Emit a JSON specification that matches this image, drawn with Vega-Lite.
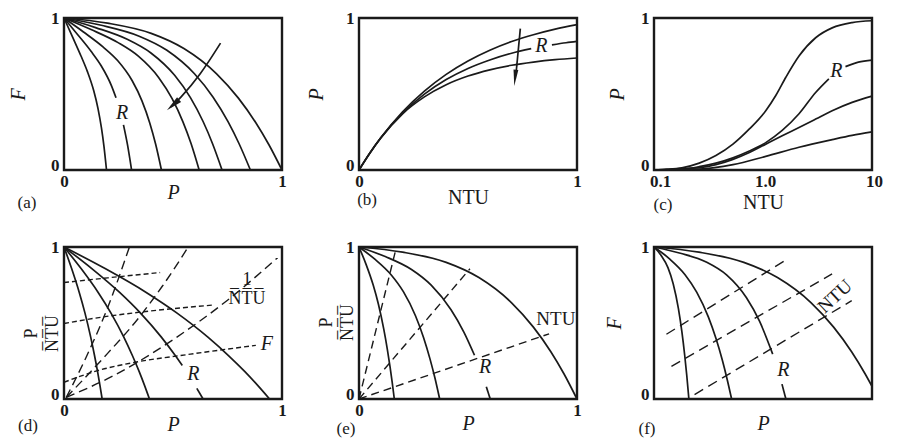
{
  "$schema": "https://vega.github.io/schema/vega-lite/v6.json",
  "background": "white",
  "padding": {"left": 6, "top": 7, "right": 5, "bottom": 5},
  "bounds": "flush",
  "columns": 3,
  "spacing": {"row": 77, "column": 77},
  "datasets": {
    "a_solid": [
      {"k": "c1", "x": 0, "y": 1}, {"k": "c1", "x": 0.039, "y": 0.876}, {"k": "c1", "x": 0.078, "y": 0.75}, {"k": "c1", "x": 0.107, "y": 0.649}, {"k": "c1", "x": 0.1365, "y": 0.521}, {"k": "c1", "x": 0.156, "y": 0.404}, {"k": "c1", "x": 0.1716, "y": 0.278}, {"k": "c1", "x": 0.1833, "y": 0.155}, {"k": "c1", "x": 0.195, "y": 0},
      {"k": "c2a", "x": 0, "y": 1}, {"k": "c2a", "x": 0.062, "y": 0.892}, {"k": "c2a", "x": 0.124, "y": 0.781}, {"k": "c2a", "x": 0.1705, "y": 0.686}, {"k": "c2a", "x": 0.217, "y": 0.557}, {"k": "c2a", "x": 0.2387, "y": 0.475},
      {"k": "c2b", "x": 0.2728, "y": 0.297}, {"k": "c2b", "x": 0.2914, "y": 0.165}, {"k": "c2b", "x": 0.31, "y": 0},
      {"k": "c3", "x": 0, "y": 1}, {"k": "c3", "x": 0.0894, "y": 0.908}, {"k": "c3", "x": 0.1788, "y": 0.81}, {"k": "c3", "x": 0.2459, "y": 0.72}, {"k": "c3", "x": 0.3129, "y": 0.587}, {"k": "c3", "x": 0.3576, "y": 0.455}, {"k": "c3", "x": 0.3934, "y": 0.31}, {"k": "c3", "x": 0.4202, "y": 0.171}, {"k": "c3", "x": 0.447, "y": 0},
      {"k": "c4", "x": 0, "y": 1}, {"k": "c4", "x": 0.124, "y": 0.924}, {"k": "c4", "x": 0.248, "y": 0.838}, {"k": "c4", "x": 0.341, "y": 0.749}, {"k": "c4", "x": 0.434, "y": 0.609}, {"k": "c4", "x": 0.496, "y": 0.469}, {"k": "c4", "x": 0.5456, "y": 0.317}, {"k": "c4", "x": 0.5828, "y": 0.174}, {"k": "c4", "x": 0.62, "y": 0},
      {"k": "c5", "x": 0, "y": 1}, {"k": "c5", "x": 0.145, "y": 0.937}, {"k": "c5", "x": 0.29, "y": 0.86}, {"k": "c5", "x": 0.3988, "y": 0.77}, {"k": "c5", "x": 0.5075, "y": 0.623}, {"k": "c5", "x": 0.58, "y": 0.476}, {"k": "c5", "x": 0.638, "y": 0.319}, {"k": "c5", "x": 0.6815, "y": 0.173}, {"k": "c5", "x": 0.725, "y": 0},
      {"k": "c6", "x": 0, "y": 1}, {"k": "c6", "x": 0.171, "y": 0.952}, {"k": "c6", "x": 0.342, "y": 0.882}, {"k": "c6", "x": 0.4703, "y": 0.789}, {"k": "c6", "x": 0.5985, "y": 0.633}, {"k": "c6", "x": 0.684, "y": 0.479}, {"k": "c6", "x": 0.7524, "y": 0.318}, {"k": "c6", "x": 0.8037, "y": 0.171}, {"k": "c6", "x": 0.855, "y": 0},
      {"k": "c7", "x": 0, "y": 1}, {"k": "c7", "x": 0.2, "y": 0.966}, {"k": "c7", "x": 0.4, "y": 0.899}, {"k": "c7", "x": 0.55, "y": 0.799}, {"k": "c7", "x": 0.7, "y": 0.633}, {"k": "c7", "x": 0.8, "y": 0.473}, {"k": "c7", "x": 0.88, "y": 0.311}, {"k": "c7", "x": 0.94, "y": 0.166}, {"k": "c7", "x": 1, "y": 0}
    ],
    "a_arrow": [
      {"x": 0.718, "y": 0.835}, {"x": 0.626, "y": 0.626}, {"x": 0.527, "y": 0.462}, {"x": 0.49, "y": 0.415}
    ],
    "a_head": [{"x": 0.5, "y": 0.428}],
    "b_solid": [
      {"k": "t", "x": 0, "y": 0}, {"k": "t", "x": 0.05, "y": 0.112}, {"k": "t", "x": 0.1, "y": 0.212}, {"k": "t", "x": 0.2, "y": 0.383}, {"k": "t", "x": 0.3, "y": 0.519}, {"k": "t", "x": 0.4, "y": 0.629}, {"k": "t", "x": 0.5, "y": 0.717}, {"k": "t", "x": 0.6, "y": 0.788}, {"k": "t", "x": 0.7, "y": 0.845}, {"k": "t", "x": 0.8, "y": 0.89}, {"k": "t", "x": 0.9, "y": 0.927}, {"k": "t", "x": 1, "y": 0.956},
      {"k": "ma", "x": 0, "y": 0}, {"k": "ma", "x": 0.05, "y": 0.112}, {"k": "ma", "x": 0.1, "y": 0.212}, {"k": "ma", "x": 0.2, "y": 0.374}, {"k": "ma", "x": 0.3, "y": 0.499}, {"k": "ma", "x": 0.4, "y": 0.595}, {"k": "ma", "x": 0.5, "y": 0.668}, {"k": "ma", "x": 0.6, "y": 0.724}, {"k": "ma", "x": 0.7, "y": 0.768}, {"k": "ma", "x": 0.79, "y": 0.798},
      {"k": "mb", "x": 0.885, "y": 0.823}, {"k": "mb", "x": 0.95, "y": 0.837}, {"k": "mb", "x": 1, "y": 0.846},
      {"k": "bo", "x": 0, "y": 0}, {"k": "bo", "x": 0.05, "y": 0.111}, {"k": "bo", "x": 0.1, "y": 0.21}, {"k": "bo", "x": 0.2, "y": 0.37}, {"k": "bo", "x": 0.3, "y": 0.481}, {"k": "bo", "x": 0.4, "y": 0.561}, {"k": "bo", "x": 0.5, "y": 0.618}, {"k": "bo", "x": 0.6, "y": 0.659}, {"k": "bo", "x": 0.7, "y": 0.689}, {"k": "bo", "x": 0.8, "y": 0.71}, {"k": "bo", "x": 0.9, "y": 0.726}, {"k": "bo", "x": 1, "y": 0.737}
    ],
    "b_arrow": [{"x": 0.74, "y": 0.93}, {"x": 0.72, "y": 0.63}],
    "b_head": [{"x": 0.716, "y": 0.606}],
    "c_solid": [
      {"k": "c1", "x": 0.1, "y": 0}, {"k": "c1", "x": 0.13, "y": 0.004}, {"k": "c1", "x": 0.18, "y": 0.014}, {"k": "c1", "x": 0.26, "y": 0.045}, {"k": "c1", "x": 0.37, "y": 0.095}, {"k": "c1", "x": 0.53, "y": 0.17}, {"k": "c1", "x": 0.75, "y": 0.27}, {"k": "c1", "x": 1.06, "y": 0.39}, {"k": "c1", "x": 1.31, "y": 0.49}, {"k": "c1", "x": 1.62, "y": 0.61}, {"k": "c1", "x": 2.14, "y": 0.75}, {"k": "c1", "x": 3.04, "y": 0.87}, {"k": "c1", "x": 4.31, "y": 0.935}, {"k": "c1", "x": 6.57, "y": 0.97}, {"k": "c1", "x": 10, "y": 0.982},
      {"k": "c2a", "x": 0.1, "y": 0}, {"k": "c2a", "x": 0.18, "y": 0.006}, {"k": "c2a", "x": 0.26, "y": 0.022}, {"k": "c2a", "x": 0.37, "y": 0.045}, {"k": "c2a", "x": 0.53, "y": 0.08}, {"k": "c2a", "x": 0.75, "y": 0.125}, {"k": "c2a", "x": 1.06, "y": 0.18}, {"k": "c2a", "x": 1.5, "y": 0.26}, {"k": "c2a", "x": 2.14, "y": 0.37}, {"k": "c2a", "x": 3.04, "y": 0.51}, {"k": "c2a", "x": 4.02, "y": 0.6},
      {"k": "c2b", "x": 5.71, "y": 0.68}, {"k": "c2b", "x": 7.5, "y": 0.71}, {"k": "c2b", "x": 10, "y": 0.723},
      {"k": "c3", "x": 0.1, "y": 0}, {"k": "c3", "x": 0.26, "y": 0.015}, {"k": "c3", "x": 0.37, "y": 0.035}, {"k": "c3", "x": 0.53, "y": 0.07}, {"k": "c3", "x": 0.75, "y": 0.115}, {"k": "c3", "x": 1.06, "y": 0.17}, {"k": "c3", "x": 1.5, "y": 0.225}, {"k": "c3", "x": 2.14, "y": 0.28}, {"k": "c3", "x": 3.04, "y": 0.335}, {"k": "c3", "x": 4.31, "y": 0.39}, {"k": "c3", "x": 6.57, "y": 0.445}, {"k": "c3", "x": 10, "y": 0.486},
      {"k": "c4", "x": 0.1, "y": 0}, {"k": "c4", "x": 0.26, "y": 0.006}, {"k": "c4", "x": 0.53, "y": 0.035}, {"k": "c4", "x": 1.06, "y": 0.09}, {"k": "c4", "x": 2.14, "y": 0.15}, {"k": "c4", "x": 4.31, "y": 0.2}, {"k": "c4", "x": 6.57, "y": 0.228}, {"k": "c4", "x": 10, "y": 0.251}
    ],
    "d_solid": [
      {"k": "c1", "x": 0, "y": 1}, {"k": "c1", "x": 0.035, "y": 0.858}, {"k": "c1", "x": 0.07, "y": 0.701}, {"k": "c1", "x": 0.0963, "y": 0.565}, {"k": "c1", "x": 0.1225, "y": 0.407}, {"k": "c1", "x": 0.14, "y": 0.286}, {"k": "c1", "x": 0.154, "y": 0.18}, {"k": "c1", "x": 0.1645, "y": 0.093}, {"k": "c1", "x": 0.175, "y": 0},
      {"k": "c2", "x": 0, "y": 1}, {"k": "c2", "x": 0.0784, "y": 0.858}, {"k": "c2", "x": 0.1568, "y": 0.701}, {"k": "c2", "x": 0.2156, "y": 0.565}, {"k": "c2", "x": 0.2744, "y": 0.407}, {"k": "c2", "x": 0.3136, "y": 0.286}, {"k": "c2", "x": 0.345, "y": 0.18}, {"k": "c2", "x": 0.3685, "y": 0.093}, {"k": "c2", "x": 0.392, "y": 0},
      {"k": "c3a", "x": 0, "y": 1}, {"k": "c3a", "x": 0.1276, "y": 0.858}, {"k": "c3a", "x": 0.2552, "y": 0.701}, {"k": "c3a", "x": 0.3509, "y": 0.565}, {"k": "c3a", "x": 0.4466, "y": 0.407}, {"k": "c3a", "x": 0.5104, "y": 0.286}, {"k": "c3a", "x": 0.5423, "y": 0.221},
      {"k": "c3b", "x": 0.6093, "y": 0.07}, {"k": "c3b", "x": 0.638, "y": 0},
      {"k": "c4", "x": 0, "y": 1}, {"k": "c4", "x": 0.1886, "y": 0.858}, {"k": "c4", "x": 0.3772, "y": 0.701}, {"k": "c4", "x": 0.5187, "y": 0.565}, {"k": "c4", "x": 0.6601, "y": 0.407}, {"k": "c4", "x": 0.7544, "y": 0.286}, {"k": "c4", "x": 0.8298, "y": 0.18}, {"k": "c4", "x": 0.8864, "y": 0.093}, {"k": "c4", "x": 0.943, "y": 0}
    ],
    "d_f_lines": [
      {"k": "f1", "x": 0, "y": 0.766}, {"k": "f1", "x": 0.2, "y": 0.797}, {"k": "f1", "x": 0.441, "y": 0.832},
      {"k": "f2", "x": 0, "y": 0.497}, {"k": "f2", "x": 0.18, "y": 0.54}, {"k": "f2", "x": 0.365, "y": 0.574}, {"k": "f2", "x": 0.684, "y": 0.618},
      {"k": "f3", "x": 0, "y": 0.11}, {"k": "f3", "x": 0.15, "y": 0.185}, {"k": "f3", "x": 0.32, "y": 0.24}, {"k": "f3", "x": 0.58, "y": 0.295}, {"k": "f3", "x": 0.88, "y": 0.353}
    ],
    "d_ntu_lines": [
      {"k": "n1", "x": 0.01, "y": 0.01}, {"k": "n1", "x": 0.1, "y": 0.27}, {"k": "n1", "x": 0.2, "y": 0.6}, {"k": "n1", "x": 0.3, "y": 1.0},
      {"k": "n2", "x": 0.01, "y": 0.01}, {"k": "n2", "x": 0.2, "y": 0.3}, {"k": "n2", "x": 0.335, "y": 0.52}, {"k": "n2", "x": 0.45, "y": 0.74}, {"k": "n2", "x": 0.57, "y": 1.0},
      {"k": "n3", "x": 0.01, "y": 0.01}, {"k": "n3", "x": 0.228, "y": 0.154}, {"k": "n3", "x": 0.5, "y": 0.39}, {"k": "n3", "x": 0.75, "y": 0.65}, {"k": "n3", "x": 0.98, "y": 0.93}
    ],
    "e_solid": [
      {"k": "c1", "x": 0, "y": 1}, {"k": "c1", "x": 0.0324, "y": 0.886}, {"k": "c1", "x": 0.0648, "y": 0.751}, {"k": "c1", "x": 0.0891, "y": 0.623}, {"k": "c1", "x": 0.1134, "y": 0.461}, {"k": "c1", "x": 0.1296, "y": 0.33}, {"k": "c1", "x": 0.1426, "y": 0.209}, {"k": "c1", "x": 0.1523, "y": 0.109}, {"k": "c1", "x": 0.162, "y": 0},
      {"k": "c2", "x": 0, "y": 1}, {"k": "c2", "x": 0.074, "y": 0.918}, {"k": "c2", "x": 0.148, "y": 0.816}, {"k": "c2", "x": 0.2035, "y": 0.706}, {"k": "c2", "x": 0.259, "y": 0.548}, {"k": "c2", "x": 0.296, "y": 0.405}, {"k": "c2", "x": 0.3256, "y": 0.264}, {"k": "c2", "x": 0.3478, "y": 0.141}, {"k": "c2", "x": 0.37, "y": 0},
      {"k": "c3a", "x": 0, "y": 1}, {"k": "c3a", "x": 0.1204, "y": 0.937}, {"k": "c3a", "x": 0.2408, "y": 0.852}, {"k": "c3a", "x": 0.3311, "y": 0.749}, {"k": "c3a", "x": 0.4214, "y": 0.589}, {"k": "c3a", "x": 0.4816, "y": 0.439}, {"k": "c3a", "x": 0.5298, "y": 0.288},
      {"k": "c3b", "x": 0.584, "y": 0.08}, {"k": "c3b", "x": 0.602, "y": 0},
      {"k": "c4", "x": 0, "y": 1}, {"k": "c4", "x": 0.2, "y": 0.966}, {"k": "c4", "x": 0.4, "y": 0.899}, {"k": "c4", "x": 0.55, "y": 0.799}, {"k": "c4", "x": 0.7, "y": 0.633}, {"k": "c4", "x": 0.8, "y": 0.473}, {"k": "c4", "x": 0.88, "y": 0.311}, {"k": "c4", "x": 0.94, "y": 0.166}, {"k": "c4", "x": 1, "y": 0}
    ],
    "e_ntu_lines": [
      {"k": "d1", "x": 0, "y": 0}, {"k": "d1", "x": 0.17, "y": 0.99},
      {"k": "d2", "x": 0, "y": 0}, {"k": "d2", "x": 0.509, "y": 0.857},
      {"k": "d3", "x": 0, "y": 0}, {"k": "d3", "x": 0.872, "y": 0.429}
    ],
    "f_solid": [
      {"k": "c1", "x": 0, "y": 1}, {"k": "c1", "x": 0.032, "y": 0.946}, {"k": "c1", "x": 0.064, "y": 0.864}, {"k": "c1", "x": 0.088, "y": 0.758}, {"k": "c1", "x": 0.112, "y": 0.594}, {"k": "c1", "x": 0.128, "y": 0.441}, {"k": "c1", "x": 0.1408, "y": 0.288}, {"k": "c1", "x": 0.1504, "y": 0.154}, {"k": "c1", "x": 0.16, "y": 0},
      {"k": "c2", "x": 0, "y": 1}, {"k": "c2", "x": 0.0712, "y": 0.922}, {"k": "c2", "x": 0.1424, "y": 0.818}, {"k": "c2", "x": 0.1958, "y": 0.703}, {"k": "c2", "x": 0.2492, "y": 0.54}, {"k": "c2", "x": 0.2848, "y": 0.396}, {"k": "c2", "x": 0.3133, "y": 0.256}, {"k": "c2", "x": 0.3346, "y": 0.135}, {"k": "c2", "x": 0.356, "y": 0},
      {"k": "c3a", "x": 0, "y": 1}, {"k": "c3a", "x": 0.121, "y": 0.959}, {"k": "c3a", "x": 0.242, "y": 0.9}, {"k": "c3a", "x": 0.3328, "y": 0.817}, {"k": "c3a", "x": 0.4235, "y": 0.668}, {"k": "c3a", "x": 0.484, "y": 0.512}, {"k": "c3a", "x": 0.5445, "y": 0.295},
      {"k": "c3b", "x": 0.587, "y": 0.098}, {"k": "c3b", "x": 0.605, "y": 0},
      {"k": "c4", "x": 0, "y": 1}, {"k": "c4", "x": 0.206, "y": 0.966}, {"k": "c4", "x": 0.412, "y": 0.899}, {"k": "c4", "x": 0.5665, "y": 0.799}, {"k": "c4", "x": 0.721, "y": 0.633}, {"k": "c4", "x": 0.824, "y": 0.473}, {"k": "c4", "x": 0.9064, "y": 0.311}, {"k": "c4", "x": 0.9682, "y": 0.166}, {"k": "c4", "x": 1, "y": 0.083}
    ],
    "f_ntu_lines": [
      {"k": "l1", "x": 0.057, "y": 0.426}, {"k": "l1", "x": 0.609, "y": 0.918},
      {"k": "l2", "x": 0.08, "y": 0.215}, {"k": "l2", "x": 0.817, "y": 0.823},
      {"k": "l3", "x": 0.186, "y": 0.029}, {"k": "l3", "x": 0.907, "y": 0.647}
    ]
  },
  "concat": [
    {
      "width": 218,
      "height": 152,
      "encoding": {
        "x": {"field": "x", "type": "quantitative", "scale": {"domain": [0, 1], "nice": false, "zero": false},
              "axis": {"values": [0, 1], "format": "d", "title": "P", "titleFontStyle": "italic", "titleY": 22}},
        "y": {"field": "y", "type": "quantitative", "scale": {"domain": [0, 1], "nice": false, "zero": false},
              "axis": {"values": [0, 1], "format": "d", "title": "F", "titleFontStyle": "italic", "titleX": -46}}
      },
      "layer": [
        {"data": {"name": "a_solid"}, "mark": {"type": "line"}, "encoding": {"detail": {"field": "k", "type": "nominal"}}},
        {"data": {"name": "a_arrow"}, "mark": {"type": "line", "interpolate": "basis"}},
        {"data": {"name": "a_head"}, "mark": {"type": "point", "shape": "M0,-1L0.38,1L-0.38,1Z", "filled": true, "opacity": 1, "size": 260, "angle": 229}},
        {"data": {"values": [{"x": 0.267, "y": 0.374, "t": "R"}]}, "mark": {"type": "text", "fontStyle": "italic"}, "encoding": {"text": {"field": "t"}}},
        {"data": {"values": [{"x": -0.17, "y": -0.22, "t": "(a)"}]}, "mark": {"type": "text", "fontSize": 17}, "encoding": {"text": {"field": "t"}}}
      ]
    },
    {
      "width": 218,
      "height": 152,
      "encoding": {
        "x": {"field": "x", "type": "quantitative", "scale": {"domain": [0, 1], "nice": false, "zero": false},
              "axis": {"values": [0, 1], "format": "d", "title": "NTU", "titleY": 27}},
        "y": {"field": "y", "type": "quantitative", "scale": {"domain": [0, 1], "nice": false, "zero": false},
              "axis": {"values": [0, 1], "format": "d", "title": "P", "titleFontStyle": "italic", "titleX": -43}}
      },
      "layer": [
        {"data": {"name": "b_solid"}, "mark": {"type": "line"}, "encoding": {"detail": {"field": "k", "type": "nominal"}}},
        {"data": {"name": "b_arrow"}, "mark": {"type": "line", "interpolate": "linear"}},
        {"data": {"name": "b_head"}, "mark": {"type": "point", "shape": "M0,-1L0.3,1L-0.3,1Z", "filled": true, "opacity": 1, "size": 260, "angle": 186}},
        {"data": {"values": [{"x": 0.837, "y": 0.815, "t": "R"}]}, "mark": {"type": "text", "fontStyle": "italic"}, "encoding": {"text": {"field": "t"}}},
        {"data": {"values": [{"x": 0.037, "y": -0.2, "t": "(b)"}]}, "mark": {"type": "text", "fontSize": 17}, "encoding": {"text": {"field": "t"}}}
      ]
    },
    {
      "width": 218,
      "height": 152,
      "encoding": {
        "x": {"field": "x", "type": "quantitative", "scale": {"type": "log", "domain": [0.1, 10], "nice": false},
              "axis": {"values": [0.1, 1, 10], "labelExpr": "datum.value < 0.5 ? '0.1' : (datum.value < 5 ? '1.0' : '10')",
                       "labelOffset": {"condition": {"test": "datum.value < 0.5", "value": 6}, "value": 2},
                       "title": "NTU", "titleY": 32}},
        "y": {"field": "y", "type": "quantitative", "scale": {"domain": [0, 1], "nice": false, "zero": false},
              "axis": {"values": [0, 1], "format": "d", "title": "P", "titleFontStyle": "italic", "titleX": -37}}
      },
      "layer": [
        {"data": {"name": "c_solid"}, "mark": {"type": "line"}, "encoding": {"detail": {"field": "k", "type": "nominal"}}},
        {"data": {"values": [{"x": 4.7, "y": 0.65, "t": "R"}]}, "mark": {"type": "text", "fontStyle": "italic"}, "encoding": {"text": {"field": "t"}}},
        {"data": {"values": [{"x": 0.121, "y": -0.23, "t": "(c)"}]}, "mark": {"type": "text", "fontSize": 17}, "encoding": {"text": {"field": "t"}}}
      ]
    },
    {
      "width": 218,
      "height": 152,
      "encoding": {
        "x": {"field": "x", "type": "quantitative", "scale": {"domain": [0, 1], "nice": false, "zero": false},
              "axis": {"values": [0, 1], "format": "d", "title": "P", "titleFontStyle": "italic", "titleY": 25}},
        "y": {"field": "y", "type": "quantitative", "scale": {"domain": [0, 1], "nice": false, "zero": false},
              "axis": {"values": [0, 1], "format": "d", "title": ["P", "N\u0305T\u0305U\u0305"], "titleFontSize": 18, "titleLineHeight": 21, "titleX": -33, "titleY": 86}}
      },
      "layer": [
        {"data": {"name": "d_solid"}, "mark": {"type": "line"}, "encoding": {"detail": {"field": "k", "type": "nominal"}}},
        {"data": {"name": "d_f_lines"}, "mark": {"type": "line", "strokeDash": [5, 3], "strokeWidth": 1.4}, "encoding": {"detail": {"field": "k", "type": "nominal"}}},
        {"data": {"name": "d_ntu_lines"}, "mark": {"type": "line", "strokeDash": [9, 5], "strokeWidth": 1.4}, "encoding": {"detail": {"field": "k", "type": "nominal"}}},
        {"data": {"values": [{"x": 0.593, "y": 0.166, "t": "R"}, {"x": 0.93, "y": 0.36, "t": "F"}]}, "mark": {"type": "text", "fontStyle": "italic"}, "encoding": {"text": {"field": "t"}}},
        {"data": {"values": [{"x": 0.839, "y": 0.783}]}, "mark": {"type": "text", "text": ["1", "N\u0305T\u0305U\u0305"], "fontSize": 18, "lineHeight": 19}},
        {"data": {"values": [{"x": -0.165, "y": -0.18, "t": "(d)"}]}, "mark": {"type": "text", "fontSize": 17}, "encoding": {"text": {"field": "t"}}}
      ]
    },
    {
      "width": 218,
      "height": 152,
      "encoding": {
        "x": {"field": "x", "type": "quantitative", "scale": {"domain": [0, 1], "nice": false, "zero": false},
              "axis": {"values": [0, 1], "format": "d", "title": "P", "titleFontStyle": "italic", "titleY": 24}},
        "y": {"field": "y", "type": "quantitative", "scale": {"domain": [0, 1], "nice": false, "zero": false},
              "axis": {"values": [0, 1], "format": "d", "title": ["P", "N\u0305T\u0305U\u0305"], "titleFontSize": 18, "titleLineHeight": 21, "titleX": -33, "titleY": 75}}
      },
      "layer": [
        {"data": {"name": "e_solid"}, "mark": {"type": "line"}, "encoding": {"detail": {"field": "k", "type": "nominal"}}},
        {"data": {"name": "e_ntu_lines"}, "mark": {"type": "line", "interpolate": "linear", "strokeDash": [8, 5], "strokeWidth": 1.4}, "encoding": {"detail": {"field": "k", "type": "nominal"}}},
        {"data": {"values": [{"x": 0.579, "y": 0.209, "t": "R"}]}, "mark": {"type": "text", "fontStyle": "italic"}, "encoding": {"text": {"field": "t"}}},
        {"data": {"values": [{"x": 0.903, "y": 0.525, "t": "NTU"}]}, "mark": {"type": "text", "fontSize": 19}, "encoding": {"text": {"field": "t"}}},
        {"data": {"values": [{"x": -0.06, "y": -0.2, "t": "(e)"}]}, "mark": {"type": "text", "fontSize": 17}, "encoding": {"text": {"field": "t"}}}
      ]
    },
    {
      "width": 218,
      "height": 152,
      "encoding": {
        "x": {"field": "x", "type": "quantitative", "scale": {"domain": [0, 1], "nice": false, "zero": false},
              "axis": {"values": [0, 1], "labels": false, "title": "P", "titleFontStyle": "italic", "titleY": 24}},
        "y": {"field": "y", "type": "quantitative", "scale": {"domain": [0, 1], "nice": false, "zero": false},
              "axis": {"values": [0, 1], "format": "d", "title": "F", "titleFontStyle": "italic", "titleX": -40}}
      },
      "layer": [
        {"data": {"name": "f_solid"}, "mark": {"type": "line"}, "encoding": {"detail": {"field": "k", "type": "nominal"}}},
        {"data": {"name": "f_ntu_lines"}, "mark": {"type": "line", "interpolate": "linear", "strokeDash": [10, 6], "strokeWidth": 1.4}, "encoding": {"detail": {"field": "k", "type": "nominal"}}},
        {"data": {"values": [{"x": 0.593, "y": 0.194, "t": "R"}]}, "mark": {"type": "text", "fontStyle": "italic"}, "encoding": {"text": {"field": "t"}}},
        {"data": {"values": [{"x": 0.83, "y": 0.675, "t": "NTU"}]}, "mark": {"type": "text", "fontSize": 19, "angle": 317}, "encoding": {"text": {"field": "t"}}},
        {"data": {"values": [{"x": -0.032, "y": -0.2, "t": "(f)"}]}, "mark": {"type": "text", "fontSize": 17}, "encoding": {"text": {"field": "t"}}}
      ]
    }
  ],
  "config": {
    "font": "Liberation Serif",
    "view": {"stroke": "#1a1a1a", "strokeWidth": 2.4},
    "mark": {"color": "#1a1a1a"},
    "line": {"strokeWidth": 1.7, "interpolate": "monotone"},
    "text": {"font": "Liberation Serif", "fontSize": 20, "baseline": "middle", "align": "center", "color": "#1a1a1a"},
    "axis": {
      "grid": false, "ticks": false, "domain": false, "labelFlush": false,
      "labelFont": "Liberation Serif", "labelFontSize": 17, "labelFontWeight": "bold", "labelColor": "#1a1a1a",
      "titleFont": "Liberation Serif", "titleFontSize": 20, "titleFontWeight": "normal", "titleColor": "#1a1a1a",
      "titleBaseline": "middle"
    },
    "axisX": {"labelPadding": 3, "labelAngle": 0},
    "axisY": {"labelPadding": 5, "labelAngle": 0,
              "labelBaseline": {"condition": {"test": "datum.value === 0", "value": "alphabetic"}, "value": "middle"}}
  }
}
